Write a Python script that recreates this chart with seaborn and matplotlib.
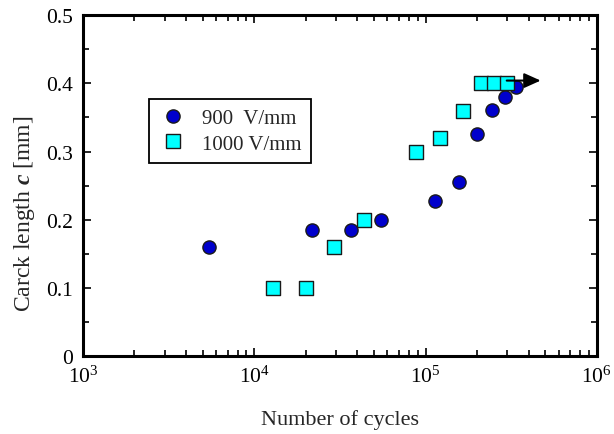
import matplotlib
matplotlib.use("Agg")
import matplotlib.pyplot as plt
import seaborn as sns
import pandas as pd
from matplotlib.ticker import LogLocator, MultipleLocator, LogFormatterMathtext, FuncFormatter
from matplotlib.lines import Line2D

# Data
cycles_900 = [5.45e3, 2.17e4, 3.67e4, 5.5e4, 1.135e5, 1.57e5, 2.0e5, 2.44e5, 2.91e5, 3.37e5]
crack_900 = [0.16, 0.185, 0.185, 0.2, 0.227, 0.256, 0.325, 0.361, 0.38, 0.395]
cycles_1000 = [1.29e4, 2.0e4, 2.92e4, 4.36e4, 8.8e4, 1.21e5, 1.65e5, 2.1e5, 2.51e5, 2.98e5]
crack_1000 = [0.1, 0.1, 0.16, 0.2, 0.3, 0.32, 0.36, 0.4, 0.4, 0.4]
labels = ["900  V/mm", "1000 V/mm"]
arrow_start = (2.98e5, 0.404)
arrow_end = (4.7e5, 0.404)

df = pd.DataFrame({
    "cycles": cycles_900 + cycles_1000,
    "crack": crack_900 + crack_1000,
    "series": [labels[0]] * len(cycles_900) + [labels[1]] * len(cycles_1000),
})

sns.set_style("ticks")
plt.rcParams["font.family"] = ["Liberation Serif", "DejaVu Serif"]
plt.rcParams["mathtext.fontset"] = "custom"
plt.rcParams["mathtext.rm"] = "Liberation Serif"
plt.rcParams["mathtext.it"] = "Liberation Serif:italic:bold"
plt.rcParams["mathtext.bf"] = "Liberation Serif:bold"

fig = plt.figure(figsize=(6.14, 4.35), dpi=100)
ax = fig.add_axes([0.135, 0.179, 0.837, 0.784])

colors = {labels[0]: "#0000CC", labels[1]: "#00FFFF"}
sns.scatterplot(data=df[df.series == labels[0]], x="cycles", y="crack",
                color=colors[labels[0]], marker="o", s=90, edgecolor="#1a1a1a",
                linewidth=1.0, ax=ax, zorder=3, legend=False)
sns.scatterplot(data=df[df.series == labels[1]], x="cycles", y="crack",
                color=colors[labels[1]], marker="s", s=110, edgecolor="#1a1a1a",
                linewidth=1.0, ax=ax, zorder=4, legend=False)

ax.annotate("", xy=arrow_end, xytext=arrow_start,
            arrowprops=dict(arrowstyle="-|>,head_length=1.0,head_width=0.45",
                            color="black", lw=1.5, shrinkA=0, shrinkB=0),
            zorder=5)

ax.set_xscale("log")
ax.set_xlim(1e3, 1e6)
ax.set_ylim(0, 0.5)
ax.xaxis.set_major_locator(LogLocator(base=10, numticks=10))
ax.xaxis.set_minor_locator(LogLocator(base=10, subs=range(2, 10), numticks=20))
ax.xaxis.set_major_formatter(LogFormatterMathtext())
ax.yaxis.set_major_locator(MultipleLocator(0.1))
ax.yaxis.set_minor_locator(MultipleLocator(0.05))
ax.yaxis.set_major_formatter(FuncFormatter(lambda v, p: "0" if abs(v) < 1e-9 else f"{v:.1f}"))

for sp in ax.spines.values():
    sp.set_linewidth(2.2)
    sp.set_color("black")
    sp.set_visible(True)
ax.tick_params(which="both", direction="in", top=True, right=True, colors="black",
               labelsize=15.5, width=1.2)
ax.tick_params(which="major", length=6, pad=7)
ax.tick_params(which="minor", length=4)

ax.set_xlabel("Number of cycles", fontsize=16)
ax.xaxis.set_label_coords(0.5, -0.155)
ax.set_ylabel("Carck length $c$ [mm]", fontsize=17)
ax.yaxis.set_label_coords(-0.09, 0.42)

handles = [
    Line2D([], [], marker="o", linestyle="none", markersize=9.5, markerfacecolor="#0000CC",
           markeredgecolor="#1a1a1a", markeredgewidth=1.0),
    Line2D([], [], marker="s", linestyle="none", markersize=10, markerfacecolor="#00FFFF",
           markeredgecolor="#1a1a1a", markeredgewidth=1.0),
]
leg = ax.legend(handles, labels, loc="upper left", bbox_to_anchor=(0.128, 0.754),
                borderaxespad=0, fontsize=15, frameon=True, fancybox=False,
                handletextpad=0.7, borderpad=0.45, labelspacing=0.3, handlelength=1.4)
leg.get_frame().set_edgecolor("black")
leg.get_frame().set_linewidth(1.3)
leg.get_frame().set_alpha(1)

fig.savefig("out.png", dpi=100)
